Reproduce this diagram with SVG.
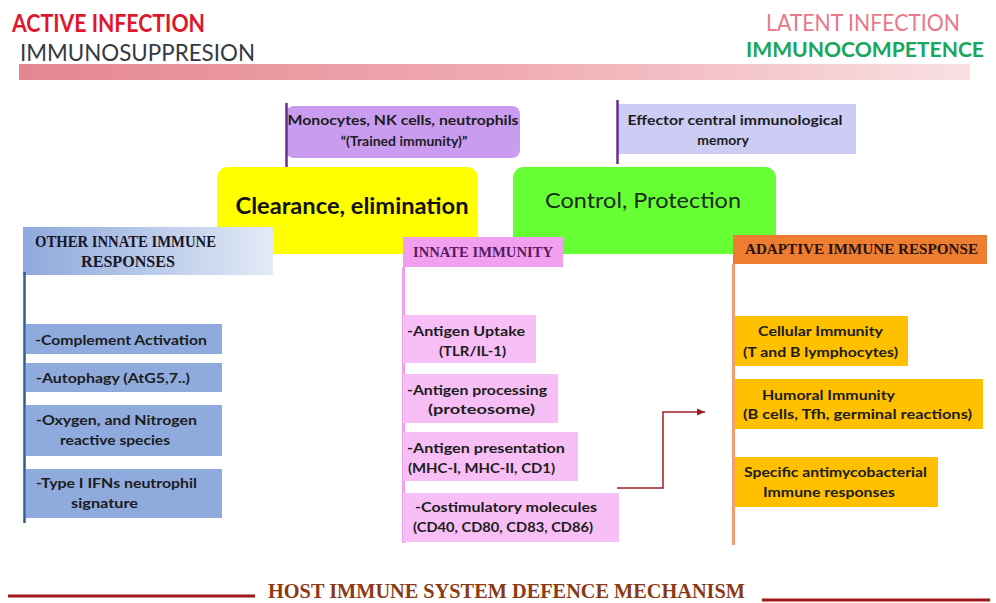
<svg xmlns="http://www.w3.org/2000/svg" width="996" height="603" viewBox="0 0 996 603">
<defs>
<linearGradient id="barGrad" x1="0" y1="0" x2="1" y2="0">
<stop offset="0" stop-color="#e4868f"/>
<stop offset="0.5" stop-color="#efaab1"/>
<stop offset="1" stop-color="#f9dfe2"/>
</linearGradient>
<linearGradient id="blueGrad" x1="0" y1="0" x2="1" y2="0">
<stop offset="0" stop-color="#8ea9dc"/>
<stop offset="1" stop-color="#e3eaf7"/>
</linearGradient>
<marker id="arrow" markerWidth="10" markerHeight="10" refX="8" refY="5" orient="auto" markerUnits="userSpaceOnUse">
<path d="M0,1.5 L8,5 L0,8.5 Z" fill="#a01c22"/>
</marker>
<style>
.t{font-family:Lato,"Liberation Sans",sans-serif;font-weight:700;font-size:14px;fill:#1c1c1c}
.hd{font-family:"Liberation Serif","DejaVu Serif",serif;font-weight:700}
.blue{fill:#8faadc}
.pink{fill:#f7bff5}
.gold{fill:#ffc000}
</style>
</defs>
<rect x="0" y="0" width="996" height="603" fill="#ffffff"/>

<g id="top-scale">
<text x="12" y="32" font-family="Lato,'Liberation Sans',sans-serif" font-weight="700" font-size="24" fill="#e0162b" textLength="193" lengthAdjust="spacingAndGlyphs">ACTIVE INFECTION</text>
<text x="20" y="61" font-family="Lato,'Liberation Sans',sans-serif" font-weight="400" font-size="24" fill="#323a42" textLength="235" lengthAdjust="spacingAndGlyphs">IMMUNOSUPPRESION</text>
<text x="766" y="31" font-family="Lato,'Liberation Sans',sans-serif" font-weight="400" font-size="24" fill="#e8788a" textLength="194" lengthAdjust="spacingAndGlyphs">LATENT INFECTION</text>
<text x="746" y="57" font-family="Lato,'Liberation Sans',sans-serif" font-weight="700" font-size="21" fill="#16a65c" textLength="238" lengthAdjust="spacingAndGlyphs">IMMUNOCOMPETENCE</text>
<rect x="19" y="64" width="951" height="16" fill="url(#barGrad)"/>
</g>

<g id="clearance">
<rect x="217" y="167" width="261" height="87" rx="11" fill="#ffff00"/>
<text x="352" y="214" text-anchor="middle" font-family="Lato,'Liberation Sans',sans-serif" font-weight="700" font-size="22" fill="#111" textLength="233" lengthAdjust="spacingAndGlyphs">Clearance, elimination</text>
</g>

<g id="control">
<rect x="513" y="167" width="263" height="87" rx="11" fill="#66ff33"/>
<text x="643" y="208" text-anchor="middle" font-family="Lato,'Liberation Sans',sans-serif" font-weight="400" font-size="22" fill="#1a2a1a" textLength="196" lengthAdjust="spacingAndGlyphs">Control, Protection</text>
</g>

<g id="trained-immunity">
<rect x="286" y="106" width="234" height="52" rx="8" fill="#c99cf0"/>
<line x1="286.5" y1="103" x2="286.5" y2="167" stroke="#6b2d8f" stroke-width="2.5"/>
<text class="t" x="403" y="125" text-anchor="middle" textLength="231" lengthAdjust="spacingAndGlyphs">Monocytes, NK cells, neutrophils</text>
<text class="t" x="404" y="146" text-anchor="middle">“(Trained immunity)”</text>
</g>

<g id="memory">
<rect x="617" y="104" width="239" height="50" fill="#ccccf5"/>
<line x1="617.5" y1="100" x2="617.5" y2="164" stroke="#6b2d8f" stroke-width="2.5"/>
<text class="t" x="735" y="125" text-anchor="middle" textLength="215" lengthAdjust="spacingAndGlyphs">Effector central immunological</text>
<text class="t" x="723" y="145" text-anchor="middle">memory</text>
</g>

<g id="other-innate">
<rect x="23" y="227" width="250" height="48" fill="url(#blueGrad)"/>
<line x1="24.5" y1="272" x2="24.5" y2="523" stroke="#2f5f8f" stroke-width="2.5"/>
<text class="hd" x="35" y="247" font-size="16" fill="#161626" textLength="181" lengthAdjust="spacingAndGlyphs">OTHER INNATE IMMUNE</text>
<text class="hd" x="81" y="267" font-size="16" fill="#161626" textLength="94" lengthAdjust="spacingAndGlyphs">RESPONSES</text>
</g>
<g id="complement">
<rect class="blue" x="26" y="324" width="196" height="30"/>
<text class="t" x="35" y="345" textLength="172" lengthAdjust="spacingAndGlyphs">-Complement Activation</text>
</g>
<g id="autophagy">
<rect class="blue" x="26" y="363" width="196" height="29"/>
<text class="t" x="36" y="383" textLength="154" lengthAdjust="spacingAndGlyphs">-Autophagy (AtG5,7..)</text>
</g>
<g id="ros">
<rect class="blue" x="26" y="405" width="196" height="51"/>
<text class="t" x="36" y="425" textLength="161" lengthAdjust="spacingAndGlyphs">-Oxygen, and Nitrogen</text>
<text class="t" x="60" y="445" textLength="110" lengthAdjust="spacingAndGlyphs">reactive species</text>
</g>
<g id="ifn">
<rect class="blue" x="26" y="469" width="196" height="49"/>
<text class="t" x="36" y="488" textLength="161" lengthAdjust="spacingAndGlyphs">-Type I IFNs neutrophil</text>
<text class="t" x="71" y="508" textLength="67" lengthAdjust="spacingAndGlyphs">signature</text>
</g>

<g id="innate">
<rect x="403" y="237" width="160" height="30" fill="#f0a0ee"/>
<line x1="403.5" y1="267" x2="403.5" y2="543" stroke="#f0a0ee" stroke-width="3"/>
<text class="hd" x="413" y="257" font-size="15" font-weight="400" fill="#5a1a5e" textLength="140" lengthAdjust="spacingAndGlyphs">INNATE IMMUNITY</text>
</g>
<g id="uptake">
<rect class="pink" x="403" y="315" width="133" height="48"/>
<text class="t" x="407" y="336" textLength="118" lengthAdjust="spacingAndGlyphs">-Antigen Uptake</text>
<text class="t" x="439" y="356" textLength="67" lengthAdjust="spacingAndGlyphs">(TLR/IL-1)</text>
</g>
<g id="processing">
<rect class="pink" x="403" y="374" width="155" height="49"/>
<text class="t" x="407" y="395" textLength="140" lengthAdjust="spacingAndGlyphs">-Antigen processing</text>
<text class="t" x="428" y="414" textLength="107" lengthAdjust="spacingAndGlyphs">(proteosome)</text>
</g>
<g id="presentation">
<rect class="pink" x="403" y="432" width="175" height="49"/>
<text class="t" x="407" y="453" textLength="158" lengthAdjust="spacingAndGlyphs">-Antigen presentation</text>
<text class="t" x="408" y="473" textLength="147" lengthAdjust="spacingAndGlyphs">(MHC-I, MHC-II, CD1)</text>
</g>
<g id="costimulatory">
<rect class="pink" x="403" y="493" width="216" height="49"/>
<text class="t" x="415" y="512" textLength="182" lengthAdjust="spacingAndGlyphs">-Costimulatory molecules</text>
<text class="t" x="413" y="532" textLength="180" lengthAdjust="spacingAndGlyphs">(CD40, CD80, CD83, CD86)</text>
</g>

<g id="adaptive">
<rect x="733" y="235" width="254" height="29" fill="#ed7d31"/>
<line x1="733.5" y1="264" x2="733.5" y2="545" stroke="#f0a070" stroke-width="3"/>
<text class="hd" x="745" y="254" font-size="15" fill="#2a1208" textLength="233" lengthAdjust="spacingAndGlyphs">ADAPTIVE IMMUNE RESPONSE</text>
</g>
<g id="cellular">
<rect class="gold" x="735" y="316" width="173" height="50"/>
<text class="t" x="758" y="336" textLength="125" lengthAdjust="spacingAndGlyphs">Cellular Immunity</text>
<text class="t" x="743" y="357" textLength="155" lengthAdjust="spacingAndGlyphs">(T and B lymphocytes)</text>
</g>
<g id="humoral">
<rect class="gold" x="735" y="379" width="248" height="50"/>
<text class="t" x="762" y="400" textLength="133" lengthAdjust="spacingAndGlyphs">Humoral Immunity</text>
<text class="t" x="743" y="419" textLength="229" lengthAdjust="spacingAndGlyphs">(B cells, Tfh, germinal  reactions)</text>
</g>
<g id="specific">
<rect class="gold" x="735" y="457" width="203" height="50"/>
<text class="t" x="744" y="477" textLength="183" lengthAdjust="spacingAndGlyphs">Specific antimycobacterial</text>
<text class="t" x="763" y="497" textLength="132" lengthAdjust="spacingAndGlyphs">Immune responses</text>
</g>

<g id="connectors">
<path d="M617,488 H663 V412 H705" fill="none" stroke="#a01c22" stroke-width="1.5" marker-end="url(#arrow)"/>
</g>

<g id="footer">
<line x1="8" y1="596" x2="255" y2="596" stroke="#a01818" stroke-width="3"/>
<line x1="762" y1="600" x2="990" y2="600" stroke="#a01818" stroke-width="3"/>
<text class="hd" x="268" y="598" font-size="22" fill="#8a3a14" textLength="477" lengthAdjust="spacingAndGlyphs">HOST IMMUNE SYSTEM DEFENCE MECHANISM</text>
</g>
</svg>
